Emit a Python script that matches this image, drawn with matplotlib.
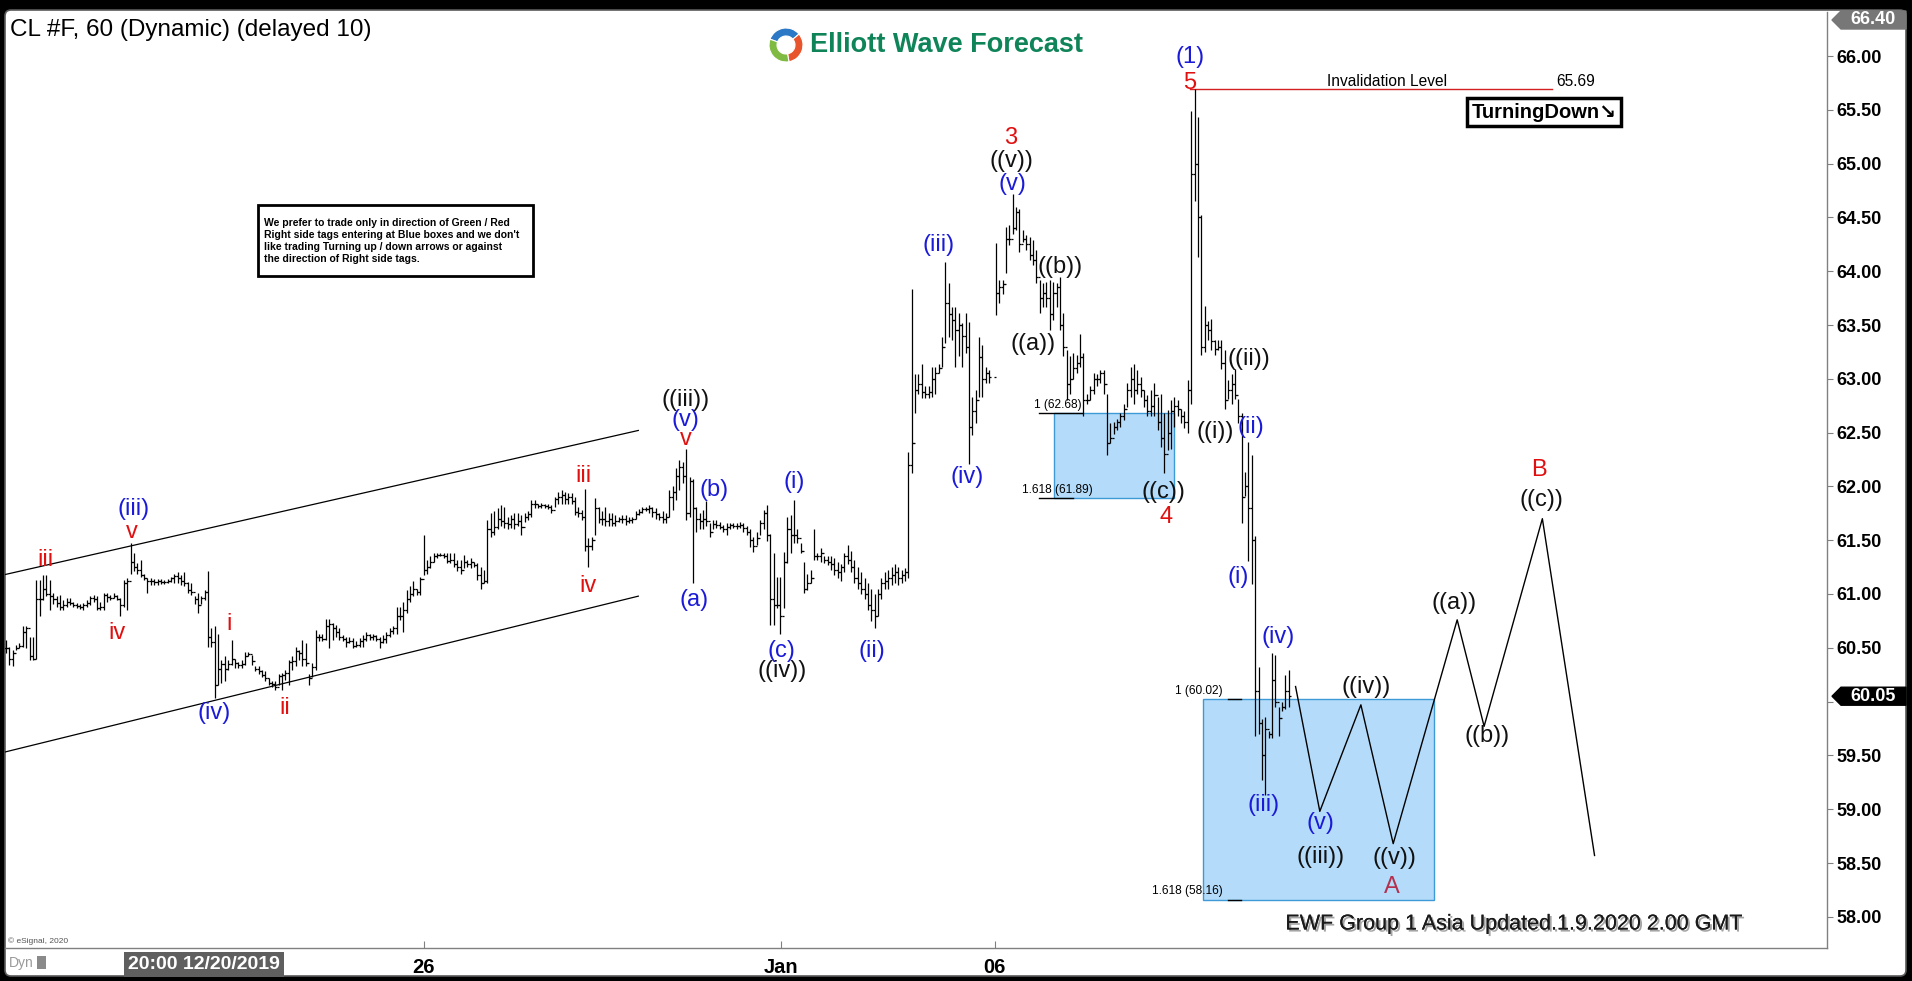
import numpy as np
import pandas as pd
import matplotlib
matplotlib.use("Agg")
import matplotlib.pyplot as plt
import matplotlib.patheffects as pe
from matplotlib.patches import FancyBboxPatch, Rectangle, Wedge, Polygon
from matplotlib.transforms import blended_transform_factory

plt.rcParams["font.family"] = ["Liberation Sans", "DejaVu Sans"]

# ---- hourly OHLC bars (one value per bar) ----
nan = np.nan
bar_high = [
    60.57, 60.51, 60.48, 60.53, 60.54, 60.70, 60.70, 60.60, 60.60, 61.13,
    61.13, 61.18, 61.18, 61.13, 61.01, 60.98, 60.99, 60.94, 60.96, 60.96,
    60.93, 60.92, 60.91, 60.92, 60.94, 60.98, 60.99, 60.98, 60.93, 61.01,
    61.01, 60.99, 61.01, 60.99, 60.96, 61.13, 61.15, 61.47, 61.38, 61.29,
    61.32, 61.19, 61.15, 61.15, 61.14, 61.14, 61.14, 61.13, 61.14, 61.16,
    61.19, 61.20, 61.18, 61.20, 61.11, 61.10, 60.98, 61.01, 60.98, 61.04,
    61.21, 60.68, 60.70, 60.63, 60.39, 60.42, 60.39, 60.57, 60.40, 60.37,
    60.39, 60.46, 60.46, 60.43, 60.33, 60.33, 60.29, 60.28, 60.22, 60.19,
    60.19, 60.26, 60.27, 60.29, 60.39, 60.42, 60.51, 60.48, 60.57, 60.54,
    60.26, 60.36, 60.67, 60.63, 60.63, 60.77, 60.77, 60.73, 60.71, 60.68,
    60.62, 60.60, 60.60, 60.59, 60.56, 60.59, 60.62, 60.65, 60.63, 60.63,
    60.62, 60.60, 60.62, 60.65, 60.68, 60.70, 60.88, 60.88, 60.93, 61.04,
    61.07, 61.12, 61.05, 61.16, 61.55, 61.32, 61.35, 61.38, 61.38, 61.38,
    61.38, 61.38, 61.38, 61.38, 61.32, 61.32, 61.36, 61.32, 61.33, 61.30,
    61.29, 61.25, 61.22, 61.69, 61.75, 61.77, 61.80, 61.83, 61.81, 61.72,
    61.73, 61.75, 61.75, 61.73, 61.75, 61.77, 61.87, 61.87, 61.84, 61.85,
    61.84, 61.84, 61.83, 61.90, 61.95, 61.97, 61.95, 61.94, 61.94, 61.90,
    61.81, 61.78, 61.98, 61.52, 61.53, 61.89, 61.81, 61.77, 61.81, 61.75,
    61.75, 61.73, 61.72, 61.73, 61.73, 61.72, 61.72, 61.77, 61.79, 61.81,
    61.81, 61.83, 61.81, 61.80, 61.75, 61.77, 61.75, 61.97, 62.00, 62.17,
    62.25, 62.23, 62.35, 62.09, 62.07, 61.81, 61.75, 61.78, 61.86, 61.66,
    61.69, 61.69, 61.67, 61.64, 61.66, 61.66, 61.66, 61.66, 61.67, 61.66,
    61.63, 61.60, 61.53, 61.58, 61.69, 61.78, 61.83, 61.56, 61.38, 61.16,
    61.16, 61.39, 61.72, 61.73, 61.87, 61.60, 61.47, 61.30, 61.19, 61.22,
    61.60, 61.38, 61.43, 61.35, 61.35, 61.35, 61.33, 61.30, 61.28, 61.38,
    61.46, 61.40, 61.32, 61.25, 61.20, 61.15, 61.10, 61.05, 61.00, 61.05,
    61.15, 61.20, 61.22, 61.25, 61.28, 61.25, 61.22, 61.24, 62.32, 63.83,
    63.04, 63.04, 63.14, 62.93, 62.93, 63.11, 63.11, 63.14, 63.39, 64.09,
    63.89, 63.67, 63.67, 63.61, 63.52, 63.61, 63.53, 62.83, 62.90, 63.39,
    63.31, 63.11, 63.08, nan, 64.26, 63.92, 63.92, 64.41, 64.43, 64.72,
    64.60, 64.58, 64.38, 64.34, 64.32, 64.29, 64.20, 63.92, 63.89, 63.90,
    63.92, 63.90, 63.89, 63.95, 63.61, 63.27, 63.21, 63.24, 63.22, 63.42,
    63.24, 62.86, 62.93, 63.05, 63.04, 63.08, 63.08, 62.86, 62.59, 62.60,
    62.63, 62.68, 62.77, 62.96, 63.11, 63.14, 63.08, 63.02, 62.90, 62.85,
    62.90, 62.96, 62.83, 62.86, 62.68, 62.71, 62.80, 62.83, 62.80, 62.72,
    62.70, 62.99, 65.49, 65.69, 65.43, 64.52, 63.68, 63.54, 63.56, 63.36,
    63.36, 63.36, 63.27, 62.99, 63.04, 63.09, 62.81, 62.68, 62.13, 62.41,
    62.29, 61.54, 60.32, 59.84, 59.86, 59.73, 60.45, 60.43, 59.95, 60.00,
    60.25, 60.29,
]
bar_low = [
    60.45, 60.34, 60.33, 60.48, 60.50, 60.51, 60.50, 60.39, 60.39, 60.40,
    60.80, 60.94, 60.98, 60.85, 60.91, 60.88, 60.85, 60.85, 60.88, 60.90,
    60.88, 60.87, 60.86, 60.85, 60.88, 60.90, 60.93, 60.85, 60.85, 60.85,
    60.93, 60.94, 60.96, 60.94, 60.80, 60.88, 60.85, 61.19, 61.21, 61.19,
    61.16, 61.13, 61.01, 61.08, 61.08, 61.08, 61.09, 61.09, 61.10, 61.11,
    61.10, 61.10, 61.08, 61.07, 61.01, 60.99, 60.91, 60.82, 60.91, 60.94,
    60.51, 60.51, 60.03, 60.15, 60.17, 60.19, 60.29, 60.34, 60.31, 60.31,
    60.31, 60.34, 60.42, 60.34, 60.28, 60.26, 60.23, 60.19, 60.15, 60.14,
    60.11, 60.15, 60.11, 60.20, 60.15, 60.29, 60.33, 60.39, 60.33, 60.33,
    60.15, 60.23, 60.29, 60.56, 60.56, 60.57, 60.50, 60.57, 60.60, 60.57,
    60.56, 60.51, 60.54, 60.50, 60.51, 60.51, 60.51, 60.56, 60.57, 60.57,
    60.56, 60.50, 60.54, 60.54, 60.60, 60.63, 60.63, 60.76, 60.65, 60.82,
    60.93, 60.98, 60.99, 60.99, 61.18, 61.19, 61.24, 61.30, 61.33, 61.35,
    61.33, 61.29, 61.29, 61.25, 61.21, 61.19, 61.24, 61.25, 61.24, 61.25,
    61.13, 61.05, 61.10, 61.10, 61.53, 61.55, 61.60, 61.63, 61.61, 61.60,
    61.61, 61.60, 61.63, 61.55, 61.67, 61.69, 61.72, 61.80, 61.80, 61.80,
    61.80, 61.79, 61.75, 61.81, 61.84, 61.84, 61.84, 61.84, 61.84, 61.73,
    61.72, 61.69, 61.40, 61.25, 61.41, 61.55, 61.66, 61.64, 61.63, 61.63,
    61.63, 61.63, 61.67, 61.66, 61.64, 61.66, 61.66, 61.70, 61.73, 61.75,
    61.77, 61.75, 61.72, 61.70, 61.69, 61.66, 61.66, 61.72, 61.78, 61.87,
    61.97, 62.03, 61.69, 61.72, 61.10, 61.58, 61.60, 61.60, 61.63, 61.53,
    61.60, 61.61, 61.60, 61.58, 61.55, 61.60, 61.61, 61.60, 61.61, 61.58,
    61.55, 61.44, 61.39, 61.46, 61.55, 61.60, 61.49, 60.71, 60.71, 60.87,
    60.63, 60.87, 61.29, 61.38, 61.47, 61.47, 61.38, 61.01, 61.04, 61.10,
    61.32, 61.32, 61.30, 61.29, 61.27, 61.22, 61.18, 61.15, 61.12, 61.20,
    61.28, 61.20, 61.10, 61.05, 61.00, 60.95, 60.85, 60.75, 60.68, 60.80,
    60.95, 61.05, 61.05, 61.08, 61.10, 61.08, 61.10, 61.12, 61.15, 62.12,
    62.68, 62.86, 62.82, 62.82, 62.82, 62.83, 62.86, 63.05, 63.11, 63.33,
    63.39, 63.36, 63.11, 63.21, 63.11, 63.24, 62.21, 62.48, 62.59, 62.83,
    62.83, 62.96, 62.96, nan, 63.59, 63.70, 63.79, 63.98, 64.24, 64.35,
    64.38, 64.18, 64.27, 64.20, 64.10, 64.06, 63.89, 63.61, 63.67, 63.67,
    63.45, 63.55, 63.67, 63.45, 63.21, 62.80, 62.86, 63.00, 63.05, 63.11,
    62.65, 62.77, 62.80, 62.86, 62.93, 62.96, 62.86, 62.29, 62.40, 62.49,
    62.52, 62.55, 62.62, 62.74, 62.83, 62.77, 62.86, 62.83, 62.74, 62.65,
    62.65, 62.65, 62.52, 62.37, 62.12, 62.34, 62.35, 62.55, 62.65, 62.59,
    62.54, 62.50, 62.77, 64.65, 64.13, 63.22, 63.25, 63.36, 63.27, 63.22,
    63.27, 63.09, 62.72, 62.81, 62.77, 62.81, 62.59, 61.66, 61.91, 61.31,
    61.09, 59.68, 59.70, 59.27, 59.13, 59.66, 59.66, 59.95, 59.68, 59.91,
    59.93, 59.95,
]
bar_close = [
    60.50, 60.40, 60.45, 60.50, 60.52, 60.65, 60.68, 60.42, 60.40, 60.95,
    60.95, 61.05, 61.00, 60.98, 60.95, 60.92, 60.88, 60.90, 60.93, 60.92,
    60.90, 60.89, 60.88, 60.90, 60.92, 60.96, 60.95, 60.87, 60.88, 60.99,
    60.97, 60.96, 60.98, 60.95, 60.90, 61.10, 61.12, 61.30, 61.25, 61.22,
    61.18, 61.15, 61.12, 61.12, 61.11, 61.12, 61.11, 61.11, 61.12, 61.15,
    61.17, 61.15, 61.12, 61.10, 61.04, 61.02, 60.95, 60.90, 60.96, 61.02,
    60.60, 60.55, 60.15, 60.30, 60.35, 60.30, 60.35, 60.40, 60.36, 60.34,
    60.35, 60.42, 60.44, 60.38, 60.30, 60.28, 60.25, 60.22, 60.17, 60.16,
    60.14, 60.24, 60.25, 60.27, 60.37, 60.38, 60.47, 60.45, 60.40, 60.36,
    60.22, 60.32, 60.60, 60.60, 60.58, 60.70, 60.72, 60.68, 60.65, 60.60,
    60.58, 60.55, 60.56, 60.52, 60.53, 60.56, 60.58, 60.62, 60.60, 60.61,
    60.58, 60.55, 60.58, 60.62, 60.66, 60.68, 60.80, 60.80, 60.85, 60.95,
    61.00, 61.05, 61.02, 61.14, 61.22, 61.25, 61.30, 61.35, 61.36, 61.36,
    61.35, 61.31, 61.32, 61.28, 61.25, 61.22, 61.30, 61.28, 61.30, 61.27,
    61.18, 61.10, 61.12, 61.60, 61.58, 61.62, 61.70, 61.68, 61.66, 61.65,
    61.70, 61.65, 61.68, 61.62, 61.72, 61.74, 61.84, 61.84, 61.82, 61.83,
    61.82, 61.81, 61.78, 61.88, 61.90, 61.92, 61.88, 61.90, 61.86, 61.76,
    61.75, 61.72, 61.45, 61.45, 61.50, 61.80, 61.70, 61.70, 61.68, 61.70,
    61.66, 61.68, 61.70, 61.70, 61.68, 61.69, 61.70, 61.74, 61.76, 61.79,
    61.79, 61.80, 61.76, 61.74, 61.72, 61.70, 61.72, 61.90, 61.95, 62.10,
    62.18, 62.10, 61.75, 62.05, 61.80, 61.70, 61.68, 61.70, 61.68, 61.58,
    61.65, 61.64, 61.62, 61.60, 61.62, 61.64, 61.63, 61.63, 61.64, 61.61,
    61.58, 61.50, 61.45, 61.52, 61.66, 61.75, 61.55, 60.95, 60.90, 60.90,
    60.80, 61.30, 61.60, 61.55, 61.55, 61.52, 61.40, 61.05, 61.10, 61.15,
    61.35, 61.35, 61.38, 61.32, 61.30, 61.28, 61.22, 61.20, 61.25, 61.35,
    61.32, 61.25, 61.15, 61.10, 61.05, 61.00, 60.90, 60.85, 60.80, 61.00,
    61.10, 61.12, 61.15, 61.18, 61.20, 61.15, 61.18, 61.20, 62.20, 62.40,
    62.90, 62.95, 62.88, 62.86, 62.88, 63.00, 63.05, 63.10, 63.30, 63.70,
    63.60, 63.55, 63.45, 63.50, 63.40, 63.30, 62.55, 62.70, 62.80, 63.20,
    63.00, 63.05, 63.02, nan, 63.80, 63.85, 63.88, 64.30, 64.30, 64.40,
    64.55, 64.25, 64.30, 64.25, 64.15, 64.10, 63.95, 63.75, 63.80, 63.75,
    63.60, 63.80, 63.85, 63.50, 63.30, 62.95, 63.00, 63.10, 63.15, 63.20,
    62.80, 62.80, 62.90, 63.00, 63.00, 63.05, 62.95, 62.40, 62.45, 62.55,
    62.60, 62.65, 62.72, 62.90, 63.00, 62.90, 62.95, 62.90, 62.80, 62.70,
    62.75, 62.85, 62.60, 62.45, 62.30, 62.50, 62.70, 62.75, 62.72, 62.65,
    62.60, 62.90, 64.90, 65.00, 64.50, 63.30, 63.50, 63.45, 63.35, 63.28,
    63.30, 63.15, 62.80, 62.90, 62.95, 62.85, 62.65, 61.90, 62.00, 61.80,
    61.50, 60.10, 59.80, 59.50, 59.75, 59.70, 60.20, 60.00, 59.85, 59.95,
    60.10, 60.05,
]

# date axis ticks (bar positions) and labels
date_ticks = [124.1, 230.2, 293.7]
date_labels = ["26", "Jan", "06"]
cursor_bar, cursor_label = 58.8, "20:00 12/20/2019"

last_price = 60.05
axis_top_price = 66.40
price_ticks = np.arange(58.0, 66.01, 0.5)

# projected path after the last bar
proj_bar = [383, 390.2, 402.4, 412.0, 431.0, 439.0, 456.3, 471.8]
proj_price = [60.14, 58.98, 59.97, 58.68, 60.76, 59.77, 61.70, 58.57]

# channel lines
chan_bar = [-1.8, 187.8]
chan_upper = [61.17, 62.52]
chan_lower = [59.52, 60.98]

# blue fibonacci boxes: (bar0, bar1, low, high)
box_upper = (311.3, 346.9, 61.89, 62.68)
box_lower = (355.5, 424.1, 58.16, 60.02)
invalidation = 65.69

RED, BLUE, BLACK, MAROON = "#e01010", "#1a1ad8", "#111111", "#b3304f"
wave_labels = [
    ("iii", 11.6, 61.32, RED), ("iv", 33.0, 60.64, RED), ("v", 37.4, 61.58, RED),
    ("i", 66.2, 60.72, RED), ("ii", 82.8, 59.94, RED), ("iii", 171.5, 62.10, RED),
    ("iv", 173.0, 61.07, RED), ("v", 201.8, 62.44, RED),
    ("3", 298.5, 65.24, RED), ("4", 344.5, 61.72, RED), ("5", 351.6, 65.75, RED),
    ("B", 455.2, 62.15, RED), ("A", 411.5, 58.28, MAROON),
    ("(iii)", 38.0, 61.79, BLUE), ("(iv)", 61.9, 59.89, BLUE), ("(v)", 201.8, 62.62, BLUE),
    ("(b)", 210.3, 61.97, BLUE), ("(a)", 204.3, 60.94, BLUE), ("(i)", 234.0, 62.04, BLUE),
    ("(c)", 230.3, 60.47, BLUE), ("(ii)", 257.3, 60.47, BLUE), ("(iii)", 277.0, 64.24, BLUE),
    ("(iv)", 285.5, 62.09, BLUE), ("(v)", 298.8, 64.81, BLUE), ("(1)", 351.6, 65.99, BLUE),
    ("(ii)", 369.8, 62.55, BLUE), ("(i)", 365.9, 61.16, BLUE), ("(iv)", 377.8, 60.60, BLUE),
    ("(iii)", 373.4, 59.04, BLUE), ("(v)", 390.5, 58.87, BLUE),
    ("((iii))", 201.8, 62.80, BLACK), ("((iv))", 230.6, 60.28, BLACK),
    ("((v))", 298.5, 65.02, BLACK), ("((b))", 313.0, 64.04, BLACK),
    ("((a))", 305.0, 63.32, BLACK), ("((c))", 343.8, 61.95, BLACK),
    ("((i))", 359.0, 62.51, BLACK), ("((ii))", 369.0, 63.18, BLACK),
    ("((iii))", 390.5, 58.56, BLACK), ("((iv))", 404.0, 60.14, BLACK),
    ("((v))", 412.5, 58.55, BLACK), ("((a))", 430.0, 60.92, BLACK),
    ("((b))", 439.8, 59.68, BLACK), ("((c))", 456.0, 61.87, BLACK),
]

# ---- layout (pixels of the 1912x981 picture) ----
W, H = 1912, 981
X0, DX = 6.0, 3.367          # pixel of bar 0, pixels per bar
PX_LEFT, PX_RIGHT, PX_TOP, PX_BOT = 5, 1827, 12, 948
P_AT_56, PX_PER_DOLLAR = 66.0, 107.6
NARROW = ["Liberation Sans Narrow", "Liberation Sans", "DejaVu Sans"]


def bar_of(px):
    return (px - X0) / DX


def price_of(py):
    return P_AT_56 - (py - 56) / PX_PER_DOLLAR


def px_of_price(p):
    return 56 + (P_AT_56 - p) * PX_PER_DOLLAR


fig = plt.figure(figsize=(W / 100, H / 100), dpi=100, facecolor="black")

bg = fig.add_axes([0, 0, 1, 1])
bg.set_xlim(0, W)
bg.set_ylim(H, 0)
bg.axis("off")
bg.add_patch(FancyBboxPatch((5, 10), 1901, 966, boxstyle="round,pad=0,rounding_size=6",
                            fc="white", ec="#5a5a5a", lw=1.2))

ax = fig.add_axes([PX_LEFT / W, 1 - PX_BOT / H, (PX_RIGHT - PX_LEFT) / W, (PX_BOT - PX_TOP) / H])
ax.set_facecolor("none")
ax.set_xlim(bar_of(PX_LEFT), bar_of(PX_RIGHT))
ax.set_ylim(price_of(PX_BOT), price_of(PX_TOP))
for side in ["left", "top"]:
    ax.spines[side].set_visible(False)
for side in ["right", "bottom"]:
    ax.spines[side].set_color("#808080")
    ax.spines[side].set_linewidth(1)

# price scale (the 60.00 label sits under the last-price marker)
ax.yaxis.tick_right()
ax.set_yticks(price_ticks)
ax.set_yticklabels(["" if abs(p - 60.0) < 1e-6 else f"{p:.2f}" for p in price_ticks],
                   fontsize=13, fontweight="bold")
ax.tick_params(axis="y", direction="out", length=4, color="#808080", pad=3)

# date scale
ax.set_xticks(date_ticks)
ax.set_xticklabels(date_labels, fontsize=14.5, fontweight="bold", family=NARROW)
ax.tick_params(axis="x", direction="in", length=5, color="#808080", pad=7)

bx = blended_transform_factory(ax.transData, ax.transAxes)
ax.text(cursor_bar, -0.0175, cursor_label, transform=bx, ha="center", va="center",
        color="white", fontsize=14, fontweight="bold", family=NARROW,
        bbox=dict(boxstyle="square,pad=0.22", fc="#5f5f5f", ec="none"))

# last price and axis-top markers on the price scale
for p, face in [(last_price, "black"), (axis_top_price, "#777777")]:
    yc = max(px_of_price(p), 20)
    bg.add_patch(Polygon([(1832, yc), (1841, yc - 9), (1906, yc - 9), (1906, yc + 9),
                          (1841, yc + 9)], closed=True, fc=face, ec=face, zorder=5))
    bg.text(1873, yc, f"{p:.2f}", color="white", fontsize=13, fontweight="bold",
            ha="center", va="center", zorder=6)

# fibonacci boxes
for b0, b1, lo_, hi_ in (box_upper, box_lower):
    ax.add_patch(Rectangle((b0, lo_), b1 - b0, hi_ - lo_, fc="#b4dcfa", ec="#3d9ad6",
                           lw=1, zorder=1))

# OHLC bars
idx = np.arange(len(bar_high))
hi = np.array(bar_high)
lo = np.array(bar_low)
cl = np.array(bar_close)
op = pd.Series(cl).ffill().shift(1).fillna(cl[0]).to_numpy()
ok = ~np.isnan(hi)
ax.vlines(idx[ok], lo[ok], hi[ok], color="black", lw=0.9, zorder=3)
ax.hlines(op[ok], idx[ok] - 0.6, idx[ok], color="black", lw=0.9, zorder=3)
ax.hlines(cl[ok], idx[ok], idx[ok] + 0.6, color="black", lw=0.9, zorder=3)

# channel and projection
ax.plot(chan_bar, chan_upper, color="black", lw=0.9, zorder=2)
ax.plot(chan_bar, chan_lower, color="black", lw=0.9, zorder=2)
ax.plot(proj_bar, proj_price, color="black", lw=1.0, zorder=3)

# invalidation level
ax.plot([bar_of(1190), bar_of(1552)], [invalidation, invalidation], color="#d42020", lw=1)
ax.text(bar_of(1387), invalidation + 0.07, "Invalidation Level", ha="center", va="center",
        fontsize=11.2)
ax.text(bar_of(1556), invalidation + 0.07, f"{invalidation:.2f}", ha="left", va="center",
        fontsize=11.2)
ax.text(bar_of(1544), price_of(112), "TurningDown\u2198", ha="center", va="center",
        fontsize=14.5, fontweight="bold",
        bbox=dict(boxstyle="square,pad=0.22", fc="white", ec="black", lw=2.5))

# fib level captions
fib_caps = [("1 (62.68)", 1082, 62.68, 1039, 1082), ("1.618 (61.89)", 1093, 61.89, 1039, 1073),
            ("1 (60.02)", 1223, 60.02, 1228, 1241), ("1.618 (58.16)", 1223, 58.16, 1228, 1241)]
for txt, right_px, lvl, l0, l1 in fib_caps:
    ax.text(bar_of(right_px), lvl + 0.02, txt, ha="right", va="bottom", fontsize=8.6, zorder=4)
    ax.plot([bar_of(l0), bar_of(l1)], [lvl, lvl], color="black", lw=1, zorder=4)

# wave labels
for txt, b, p, c in wave_labels:
    ax.text(b, p, txt, color=c, ha="center", va="center", fontsize=17, zorder=5)

ax.text(bar_of(8), price_of(941), "\u00a9 eSignal, 2020", fontsize=6, color="#555555",
        ha="left", va="center")

# header, logo, notes
bg.text(10, 30, "CL #F, 60 (Dynamic) (delayed 10)", fontsize=17.5, ha="left", va="center")
for a0, a1, col in [(200, 320, "#2b78c6"), (320, 80, "#e8542c"), (80, 200, "#7fba43")]:
    bg.add_patch(Wedge((786, 45), 17, a0, a1, width=8, fc=col, ec="white", lw=0.8))
bg.text(810, 45, "Elliott Wave Forecast", fontsize=19.5, fontweight="bold", color="#108459",
        ha="left", va="center")

note = ("We prefer to trade only in direction of Green / Red\n"
        "Right side tags entering at Blue boxes and we don't\n"
        "like trading Turning up / down arrows or against\n"
        "the direction of Right side tags.")
bg.text(264, 241, note, fontsize=7.45, fontweight="bold", ha="left", va="center",
        linespacing=1.25)
bg.add_patch(Rectangle((258, 205), 275, 71, fc="none", ec="black", lw=2))

bg.text(1514, 924, "EWF Group 1 Asia Updated.1.9.2020 2.00 GMT", fontsize=15.5,
        ha="center", va="center", color="#1a1a1a",
        path_effects=[pe.withSimplePatchShadow(offset=(1.5, -1.5), shadow_rgbFace="#9a9a9a",
                                               alpha=0.9), pe.Normal()])
bg.text(9, 963, "Dyn", fontsize=10, color="#9a9a9a", ha="left", va="center")
bg.add_patch(Rectangle((37, 956), 9, 13, fc="#8a8a8a", ec="none"))

fig.savefig("out.png", dpi=100, facecolor=fig.get_facecolor())
